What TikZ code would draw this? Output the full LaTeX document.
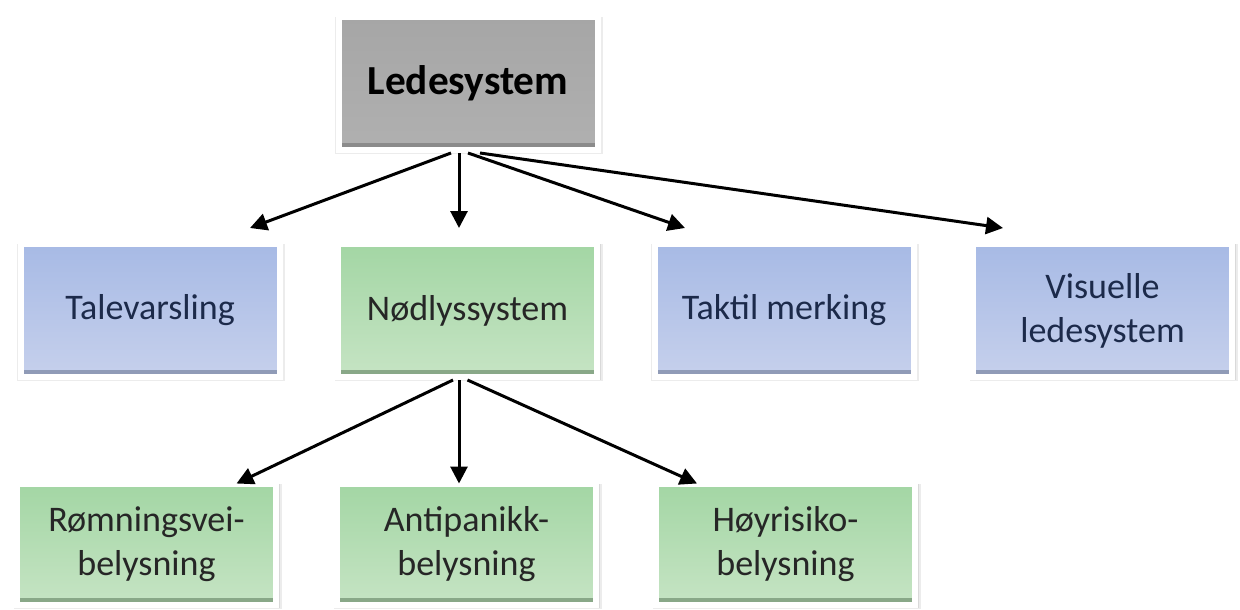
\documentclass[tikz,border=0pt]{standalone}
\usepackage{fontspec}
\setmainfont{Carlito}
\usetikzlibrary{arrows.meta,shadows}
\definecolor{boxblueA}{HTML}{A7BAE5}
\definecolor{boxblueB}{HTML}{C6D0EC}
\definecolor{boxgreenA}{HTML}{A3D6A4}
\definecolor{boxgreenB}{HTML}{C6E4C4}
\definecolor{boxgrayA}{HTML}{A6A6A6}
\definecolor{boxgrayB}{HTML}{B0B0B0}
\definecolor{textblue}{HTML}{1C2A4A}

\begin{document}
\begin{tikzpicture}[>={Triangle[length=0.34cm,width=0.34cm]},font=\fontsize{20.5}{25}\selectfont,
frame box/.style={rectangle,draw=white,line width=0.12cm,minimum width=5.18cm,minimum height=2.66cm,align=center,inner sep=0pt,
  drop shadow={shadow xshift=0.02cm,shadow yshift=-0.04cm,shadow scale=1.035,opacity=0.12,fill=black!60},
  drop shadow={shadow xshift=0.02cm,shadow yshift=-0.03cm,shadow scale=1.02,opacity=0.15,fill=black!60}},
blue box/.style={frame box,top color=boxblueA,bottom color=boxblueB,text=textblue,path picture={\fill[boxblueA!65!black,opacity=0.6] (path picture bounding box.south west) rectangle ([yshift=0.15cm]path picture bounding box.south east);}},
green box/.style={frame box,top color=boxgreenA,bottom color=boxgreenB,text=black!85,path picture={\fill[boxgreenA!60!black,opacity=0.6] (path picture bounding box.south west) rectangle ([yshift=0.15cm]path picture bounding box.south east);}},
gray box/.style={frame box,top color=boxgrayA,bottom color=boxgrayB,text=black,path picture={\fill[black!55,opacity=0.6] (path picture bounding box.south west) rectangle ([yshift=0.15cm]path picture bounding box.south east);}}]
\tikzstyle{arrow} = [draw,->,line width=0.06cm,black]
\tikzstyle{low box} = [minimum height=2.42cm]

\useasboundingbox (0,0) rectangle (24.8,-12.18);

\node[gray box] at (9.36,-1.67) (lede) {\fontsize{23.5}{28}\selectfont\bfseries Ledesystem};

\node[blue box] at (3.0,-6.21) (talev) {Talevarsling};
\node[green box] at (9.35,-6.21) (noedlys) {Nødlyssystem};
\node[blue box] at (15.68,-6.21) (taktil) {Taktil merking};
\node[blue box] at (22.05,-6.21) (visuelle) {Visuelle\\ledesystem};

\node[green box,low box] at (2.93,-10.89) (roemning) {Rømningsvei-\\belysning};
\node[green box,low box] at (9.33,-10.89) (antipanikk) {Antipanikk-\\belysning};
\node[green box,low box] at (15.71,-10.89) (hoeyrisiko) {Høyrisiko-\\belysning};

% Ledesystem
\draw[arrow] ([xshift=-0.34cm]lede.south) -- ([shift={(2cm,0.26cm)}]talev.north);
\draw[arrow] ([xshift=-0.18cm]lede.south) -- ([shift={(-0.17cm,0.26cm)}]noedlys.north);
\draw[arrow] (lede.south) -- ([shift={(-1.98cm,0.26cm)}]taktil.north);
\draw[arrow] ([xshift=0.24cm]lede.south) -- ([shift={(-1.99cm,0.26cm)}]visuelle.north);

% Nodlys
\draw[arrow] ([xshift=-0.29cm]noedlys.south) -- ([shift={(1.8cm,-0.05cm)}]roemning.north);
\draw[arrow] ([xshift=-0.17cm]noedlys.south) -- ([shift={(-0.15cm,-0.05cm)}]antipanikk.north);
\draw[arrow] (noedlys.south) -- ([shift={(-1.77cm,-0.05cm)}]hoeyrisiko.north);
\end{tikzpicture}
\end{document}
